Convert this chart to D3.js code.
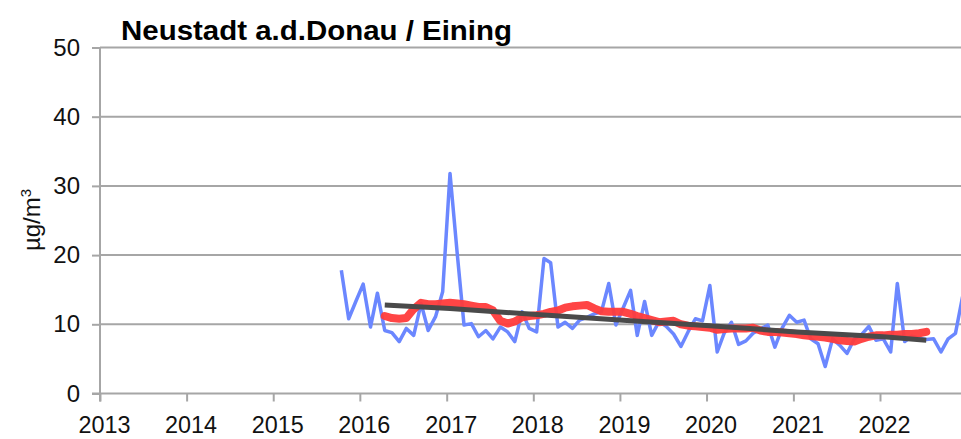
<!DOCTYPE html>
<html>
<head>
<meta charset="utf-8">
<script src="https://cdn.jsdelivr.net/npm/d3@7"></script>
<style>
  body { margin: 0; background: #fff; }
  svg { display: block; font-family: "Liberation Sans", Arial, sans-serif; }
</style>
</head>
<body>
<div id="chart"></div>
<script>
// monthly means, starting October 2015
const monthlyStart = [2015, 9];
const monthlyValues = [
    17.8, 10.8, 13.3,
    15.8, 9.6, 14.5, 9.1, 8.8, 7.5, 9.4, 8.4, 13.0, 9.1, 11.1, 14.7,
    31.8, 20.0, 9.9, 10.1, 8.2, 9.1, 7.9, 9.6, 8.9, 7.5, 11.8, 9.4,
    8.9, 19.5, 18.9, 9.6, 10.3, 9.4, 10.6, 11.0, 11.5, 11.8, 15.9, 9.9,
    12.4, 14.9, 8.4, 13.3, 8.4, 10.4, 9.7, 8.6, 6.8, 8.9, 10.8, 10.5,
    15.6, 6.0, 8.7, 10.3, 7.1, 7.6, 8.7, 9.3, 9.9, 6.7, 9.5, 11.3,
    10.3, 10.6, 7.9, 7.2, 3.9, 7.9, 7.0, 5.8, 7.9, 8.5, 9.7, 7.7,
    7.9, 6.0, 15.9, 7.5, 8.3, 8.0, 7.8, 7.9, 6.0, 7.9, 8.7, 14.0
];

// running 12-month mean, starting April 2016
const runningStart = [2016, 3];
const runningValues = [
    11.2, 10.9, 10.8, 10.9, 12.2, 13.1, 12.9, 12.9, 13.0,
    13.1, 13.0, 12.9, 12.7, 12.5, 12.5, 12.0, 10.5, 10.1, 10.4, 11.0, 11.2,
    11.3, 11.5, 11.8, 12.0, 12.4, 12.6, 12.7, 12.8, 12.3, 11.9, 11.8, 11.8,
    11.8, 11.5, 11.2, 10.9, 10.6, 10.3, 10.4, 10.5, 10.0, 9.8, 9.7, 9.6,
    9.5, 9.2, 9.3, 9.4, 9.4, 9.4, 9.5, 9.1, 8.9, 8.9, 8.8, 8.7,
    8.6, 8.4, 8.3, 8.2, 8.1, 7.9, 7.7, 7.6, 7.5, 7.9, 8.2, 8.4,
    8.4, 8.5, 8.5, 8.6, 8.6, 8.7, 8.9
];

// trend line: [year, month, value]
const trendPoints = [
    [2016, 3, 12.8], [2017, 0, 12.3], [2018, 0, 11.4], [2019, 0, 10.6],
    [2020, 0, 9.8], [2021, 0, 8.9], [2022, 0, 8.2], [2022, 6, 7.7]
];

const yTicks = [0, 10, 20, 30, 40, 50];
const xYears = [2013, 2014, 2015, 2016, 2017, 2018, 2019, 2020, 2021, 2022];

const W = 961, H = 439;
const svg = d3.select("#chart").append("svg")
    .attr("width", W)
    .attr("height", H);

const x = d3.scaleTime()
    .domain([new Date(2013, 0, 1), new Date(2022, 0, 1)])
    .range([100, 880]);

const y = d3.scaleLinear()
    .domain([0, 50])
    .range([393.5, 47.5]);

function series(start, values) {
    return values.map((v, i) => ({
        date: new Date(start[0], start[1] + i, 15),
        value: v
    }));
}

const monthly = series(monthlyStart, monthlyValues);
const running = series(runningStart, runningValues);
const trend = trendPoints.map(d => ({ date: new Date(d[0], d[1], 15), value: d[2] }));

// gridlines
svg.append("g")
    .selectAll("line")
    .data(yTicks.filter(d => d > 0))
    .enter().append("line")
    .attr("x1", 100).attr("x2", W)
    .attr("y1", d => y(d)).attr("y2", d => y(d))
    .attr("stroke", "#a6a6a6")
    .attr("stroke-width", 2);

// y axis
const yAxis = svg.append("g")
    .attr("transform", "translate(100,0)")
    .call(d3.axisLeft(y).tickValues(yTicks).tickSize(8).tickPadding(12));
yAxis.select(".domain").attr("stroke", "#a6a6a6").attr("stroke-width", 2)
    .attr("d", `M0,${y(50)}V${y(0) + 8}`);
yAxis.selectAll(".tick line").attr("stroke", "#a6a6a6").attr("stroke-width", 2);
yAxis.selectAll(".tick text")
    .style("font-size", "24px")
    .attr("fill", "#111");

// x axis
const xAxis = svg.append("g")
    .attr("transform", `translate(0,${y(0)})`)
    .call(d3.axisBottom(x)
        .tickValues(xYears.map(yr => new Date(yr, 0, 1)))
        .tickFormat(d3.timeFormat("%Y"))
        .tickSize(8)
        .tickPadding(14));
xAxis.select(".domain").attr("stroke", "#a6a6a6").attr("stroke-width", 2)
    .attr("d", `M92,0H${W}`);
xAxis.selectAll(".tick line").attr("stroke", "#a6a6a6").attr("stroke-width", 2);
xAxis.selectAll(".tick text")
    .style("font-size", "24px")
    .attr("fill", "#111")
    .attr("dx", 4)
    .attr("textLength", 52)
    .attr("lengthAdjust", "spacingAndGlyphs");

const line = d3.line()
    .x(d => x(d.date))
    .y(d => y(d.value));

svg.append("path")
    .datum(monthly)
    .attr("fill", "none")
    .attr("stroke", "#6b87ff")
    .attr("stroke-width", 3.5)
    .attr("stroke-linejoin", "round")
    .attr("d", line);

svg.append("path")
    .datum(running)
    .attr("fill", "none")
    .attr("stroke", "#ff3b3b")
    .attr("stroke-width", 8)
    .attr("stroke-linejoin", "round")
    .attr("stroke-linecap", "round")
    .attr("opacity", 0.95)
    .attr("d", line);

svg.append("path")
    .datum(trend)
    .attr("fill", "none")
    .attr("stroke", "#4a4a4a")
    .attr("stroke-width", 5)
    .attr("stroke-linejoin", "round")
    .attr("d", line);

// title
svg.append("text")
    .attr("x", 121)
    .attr("y", 40)
    .attr("textLength", 391)
    .attr("lengthAdjust", "spacingAndGlyphs")
    .style("font-size", "27px")
    .style("font-weight", "bold")
    .text("Neustadt a.d.Donau / Eining");

// y label
const yl = svg.append("text")
    .attr("transform", "translate(40,220) rotate(-90)")
    .attr("text-anchor", "middle")
    .style("font-size", "24px")
    .attr("fill", "#111");
yl.append("tspan").text("µg/m");
yl.append("tspan").attr("dy", -9).style("font-size", "15px").text("3");
</script>
</body>
</html>
